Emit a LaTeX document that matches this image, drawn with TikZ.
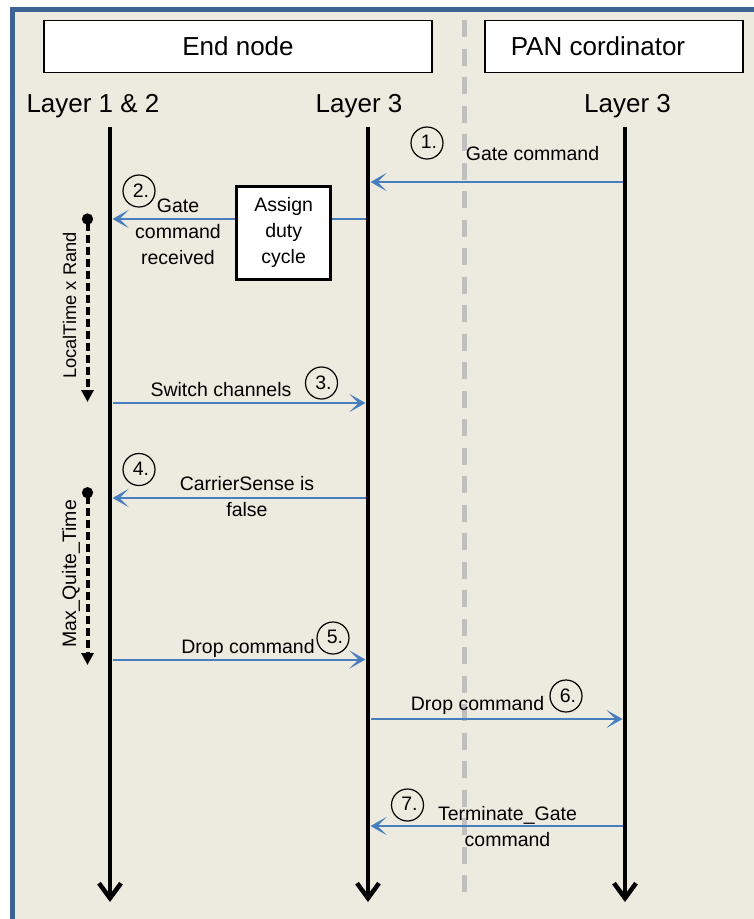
\documentclass[tikz,border=0pt]{standalone}
\usepackage{fontspec}
\setmainfont{Liberation Sans}
\usetikzlibrary{positioning}
\usetikzlibrary{calc}
\usetikzlibrary{arrows.meta}

\definecolor{fondbeige}{RGB}{237,235,224}
\definecolor{bordbleu}{RGB}{60,99,148}
\definecolor{bleufleche}{RGB}{72,125,190}
\definecolor{grisseparation}{RGB}{192,192,192}

\begin{document}
\begin{tikzpicture}[x=1pt,y=-1pt]
% définition des paramètres
\tikzstyle boitetitre=[draw=black,line width=1.6pt,fill=white,minimum height=52pt,font=\fontsize{26}{30}\selectfont]
\tikzstyle titre=[font=\fontsize{26}{30}\selectfont,anchor=base]
\tikzstyle lignevie=[line width=4.5pt,-{Straight Barb[length=15pt,width=22pt,line width=4.5pt]}]
\tikzstyle separation=[color=grisseparation,line width=5pt,dash pattern=on 17pt off 11.5pt]
\tikzstyle message=[color=bleufleche,line width=2pt,shorten >=2.5pt,shorten <=2.5pt]
\tikzstyle fleche=[message,-{Stealth[length=16pt,width=18pt,inset=9pt]}]
\tikzstyle texte=[font=\fontsize{19.5}{26}\selectfont,inner sep=0pt,align=center]
\tikzstyle numero=[draw=black,line width=1.2pt,circle,minimum size=32pt,inner sep=0pt,font=\fontsize{19.5}{22}\selectfont]
\tikzstyle boiteassign=[texte,draw=black,line width=3pt,fill=white,minimum width=94pt,minimum height=93pt]
\tikzstyle minuterie=[line width=4pt,dash pattern=on 8pt off 4pt,arrows={Circle[length=11pt]-Triangle[length=12pt,width=12pt]}]
% le fond et le cadre
\useasboundingbox (0,0) rectangle (753,919);
\fill[white] (0,0) rectangle (753,919);
\fill[fondbeige] (12.5,9.5) rectangle (760,925);
\draw[bordbleu,line width=5pt] (12.5,925) -- (12.5,9.5) -- (760,9.5);
% la séparation
\draw[separation] (464.5,20) -- (464.5,901);
% les boîtes du haut
\node[boitetitre,minimum width=388pt] (endnode) at (238,46.3) {End node};
\node[boitetitre,minimum width=258pt] (pan) at (614,46.3) {};
\node[titre,anchor=center] at ([xshift=-16pt]pan.center) {PAN cordinator};
% les couches
\node[titre] (c12) at (93,112) {Layer 1 \& 2};
\node[titre] (c3a) at (359,112) {Layer 3};
\node[titre] (c3b) at (627.5,112) {Layer 3};
% les lignes de vie
\foreach \x/\n in {110/La,368/Lb,625/Lc}
{
\coordinate (\n) at (\x,127);
\coordinate (\n-bas) at (\x,902);
\draw[lignevie] (\n) -- (\n-bas);
}
% les minuteries
\coordinate (t1haut) at (87.5,213.5);
\coordinate (t1bas) at (87.5,402);
\draw[minuterie] (t1haut) -- (t1bas);
\node[texte,rotate=90,anchor=base,font=\fontsize{18.3}{22}\selectfont] at (76,305.5) {LocalTime x Rand};
\coordinate (t2haut) at (87.5,487.2);
\coordinate (t2bas) at (87.5,665);
\draw[minuterie] (t2haut) -- (t2bas);
\node[texte,rotate=90,anchor=base] at (76,574) {Max\_Quite\_Time};
% 1.
\draw[fleche] (Lc |- 0,182) -- (Lb |- 0,182);
\node[texte,anchor=base] at (532.5,160) {Gate command};
% 2.
\node[boiteassign] (assign) at (283.7,232.5) {Assign\\duty\\cycle};
\draw[message,shorten >=0pt] (Lb |- 0,219) -- (assign.east |- 0,219);
\draw[fleche,shorten <=0pt] (assign.west |- 0,219) -- (La |- 0,219);
\node[texte,anchor=north] at (178,198.6) {Gate\\command\\received};
% 3.
\draw[fleche] (La |- 0,403) -- (Lb |- 0,403);
\node[texte,anchor=base] at (221,396) {Switch channels};
% 4.
\draw[fleche] (Lb |- 0,498) -- (La |- 0,498);
\node[texte,anchor=north] at (247,476.5) {CarrierSense is\\false};
% 5.
\draw[fleche] (La |- 0,659.5) -- (Lb |- 0,659.5);
\node[texte,anchor=base] at (248,653) {Drop command};
% 6.
\draw[fleche] (Lb |- 0,719) -- (Lc |- 0,719);
\node[texte,anchor=base] at (477.5,710) {Drop command};
% 7.
\draw[fleche] (Lc |- 0,826) -- (Lb |- 0,826);
\node[texte,anchor=north] at (507.5,806.5) {Terminate\_Gate\\command};
% les numéros
\foreach \x/\y/\k in {427/143/1,139/191/2,321.5/383/3,139/469.5/4,333/638/5,566/696/6,407.5/805/7}
    \node[numero] (n\k) at (\x,\y) {\hspace*{4pt}\raisebox{1.5pt}{\k.}};
\end{tikzpicture}
\end{document}
